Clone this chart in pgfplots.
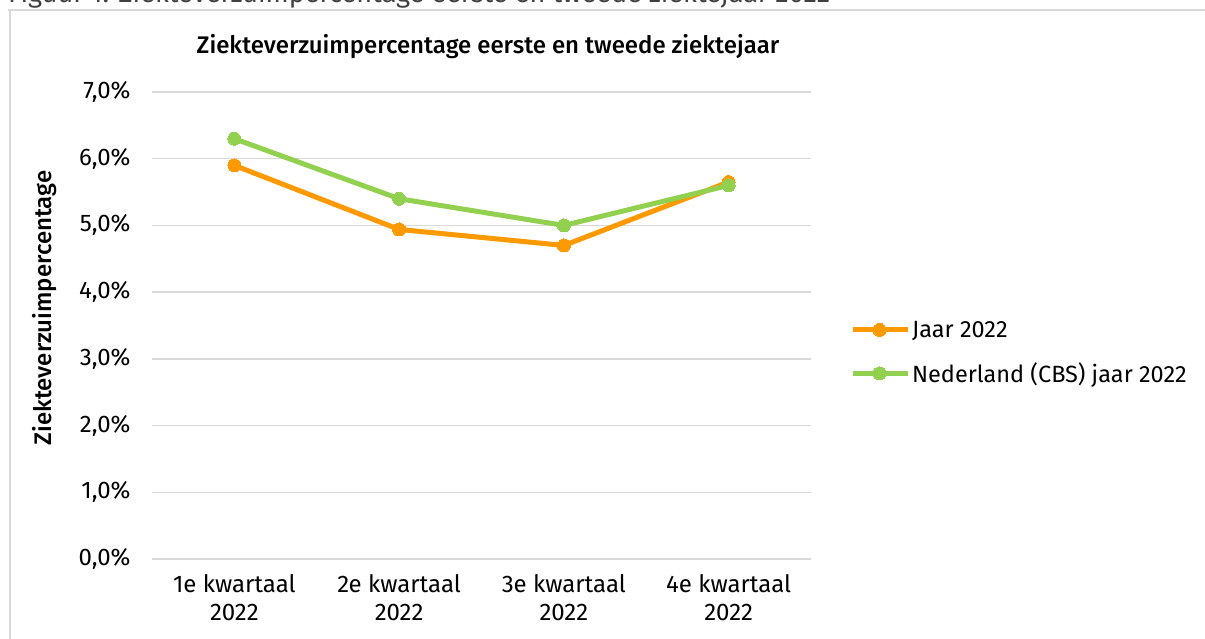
\documentclass[border=0pt]{standalone}
\usepackage{pgfplots}
\pgfplotsset{compat=1.18}
\usepackage{fontspec}
\setmainfont{Fira Sans}[BoldFont={Fira Sans Medium}]
\definecolor{cOrange}{HTML}{FF9900}
\definecolor{cGreen}{HTML}{92D050}
\definecolor{cGrid}{HTML}{D9D9D9}
\pgfplotstableread{
x y
0 5.90
1 4.94
2 4.70
3 5.65
}\jaar
\pgfplotstableread{
x y
0 6.30
1 5.40
2 5.00
3 5.60
}\cbs
\begin{document}
\begin{tikzpicture}[x=1pt,y=1pt]
\useasboundingbox (0,0) rectangle (1205,639);
\begin{scope}
\clip (0,0) rectangle (1205,639);
\node[anchor=base west, inner sep=0, text=black!75, font=\fontsize{27}{30}\selectfont] at (8,636) {Figuur 1: Ziekteverzuimpercentage eerste en tweede ziektejaar 2022};
\draw[cGrid, line width=2pt] (8,629) -- (1205,629);
\draw[cGrid, line width=2pt] (10,629) -- (10,-5);
\end{scope}
\node[font=\bfseries\fontsize{24}{28}\selectfont] at (488,592) {Ziekteverzuimpercentage eerste en tweede ziektejaar};
\node[rotate=90, font=\bfseries\fontsize{24}{28}\selectfont] at (45,331) {Ziekteverzuimpercentage};
\begin{axis}[
  at={(152pt,80pt)}, anchor=south west,
  scale only axis, width=659pt, height=467pt,
  xmin=-0.5, xmax=3.5, ymin=0, ymax=7,
  axis line style={draw=none}, tick style={draw=none},
  ytick={0,1,2,3,4,5,6,7},
  yticklabels={{0,0\%},{1,0\%},{2,0\%},{3,0\%},{4,0\%},{5,0\%},{6,0\%},{7,0\%}},
  xtick={0,1,2,3},
  xticklabels={{1e kwartaal\\2022},{2e kwartaal\\2022},{3e kwartaal\\2022},{4e kwartaal\\2022}},
  xticklabel style={align=center, font=\fontsize{24}{28}\selectfont, yshift=-12pt},
  yticklabel style={font=\fontsize{24}{28}\selectfont, xshift=-18pt},
  ymajorgrids, grid style={cGrid, line width=1.5pt},
  clip=false,
  legend style={draw=none, fill=none, at={(1.059,0.442)}, anchor=west,
    font=\fontsize{23.5}{27}\selectfont, row sep=20pt, inner xsep=0pt,
    cells={anchor=west}},
  legend image code/.code={\draw[mark repeat=2,mark phase=2,#1] plot coordinates {(0pt,0pt) (27pt,0pt) (55pt,0pt)};},
]
\addplot[cOrange, line width=5pt, mark=*, mark size=6.5pt, mark options={line width=0pt}] table[x=x,y=y] {\jaar};
\addlegendentry{Jaar 2022}
\addplot[cGreen, line width=5pt, mark=*, mark size=6.5pt, mark options={line width=0pt}] table[x=x,y=y] {\cbs};
\addlegendentry{Nederland (CBS) jaar 2022}
\end{axis}
\end{tikzpicture}
\end{document}
